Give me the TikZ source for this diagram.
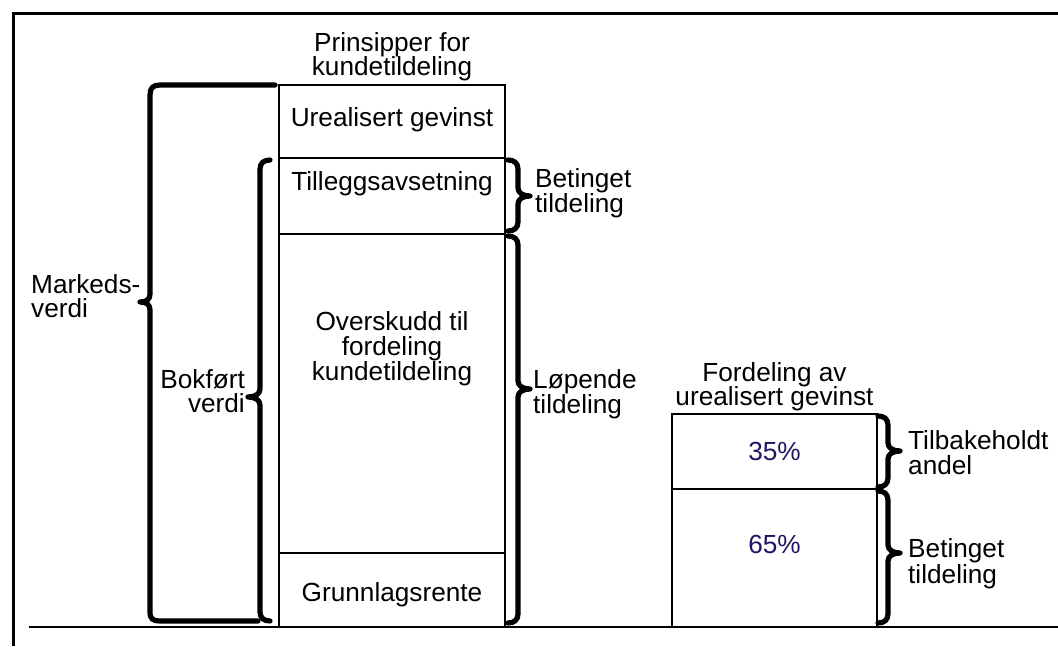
\documentclass[tikz,border=0pt]{standalone}
\usepackage{fontspec}
\setmainfont{Liberation Sans}
\definecolor{pct}{RGB}{32,20,100}
\newcommand\myrbrace[4]{% x0, y1, ym, y2
\draw[brc] ({#1-10},#2) .. controls ({#1-4},#2) and (#1,{#2+3}) .. (#1,{#2+9}) -- (#1,{#3-8}) .. controls (#1,{#3-3}) and ({#1+5},#3) .. ({#1+12},#3) .. controls ({#1+5},#3) and (#1,{#3+3}) .. (#1,{#3+8}) -- (#1,{#4-9}) .. controls (#1,{#4-3}) and ({#1-4},#4) .. ({#1-10},#4);}
\newcommand\mylbrace[4]{% x0, y1, ym, y2
\draw[brc] ({#1+10},#2) .. controls ({#1+4},#2) and (#1,{#2+3}) .. (#1,{#2+9}) -- (#1,{#3-8}) .. controls (#1,{#3-3}) and ({#1-5},#3) .. ({#1-12},#3) .. controls ({#1-5},#3) and (#1,{#3+3}) .. (#1,{#3+8}) -- (#1,{#4-9}) .. controls (#1,{#4-3}) and ({#1+4},#4) .. ({#1+10},#4);}
\begin{document}
\begin{tikzpicture}[x=1pt,y=-1pt,
  txt/.style={font=\fontsize{26.2}{24}\selectfont, inner sep=0pt, anchor=base},
  txtl/.style={txt, anchor=base west},
  txtr/.style={txt, anchor=base east},
  pcttxt/.style={txt, text=pct},
  boxline/.style={line width=2pt},
  brc/.style={line width=5.2pt, line cap=round, line join=round}]
\useasboundingbox (0,0) rectangle (1058,646);
% frame
\draw[line width=3pt] (13.5,646) -- (13.5,13.5) -- (1058,13.5);
\draw[line width=2.2pt] (29,627) -- (1058,627);
% left column
\draw[boxline] (279,627) -- (279,85) -- (505,85) -- (505,627);
\draw[boxline] (279,158) -- (505,158);
\draw[boxline] (279,234) -- (505,234);
\draw[boxline] (279,553) -- (505,553);
% right column
\draw[boxline] (672,627) -- (672,414) -- (877,414) -- (877,627);
\draw[boxline] (672,489) -- (877,489);
% texts
\node[txt] (t1) at (392,51) {Prinsipper for};
\node[txt] (t2) at (392,75) {kundetildeling};
\node[txt] (ug) at (392,126) {Urealisert gevinst};
\node[txt] (ta) at (392,190) {Tilleggsavsetning};
\node[txt] (ov1) at (392,330) {Overskudd til};
\node[txt] (ov2) at (392,355) {fordeling};
\node[txt] (ov3) at (392,380) {kundetildeling};
\node[txt] (gr) at (392,601) {Grunnlagsrente};
\node[txt] (fa1) at (774.5,381) {Fordeling av};
\node[txt] (fa2) at (774.5,405) {urealisert gevinst};
\node[pcttxt] (p35) at (774.5,460) {35\%};
\node[pcttxt] (p65) at (774.5,553) {65\%};
\node[txtl] (mv1) at (31,293) {Markeds-};
\node[txtl] (mv2) at (31,317) {verdi};
\node[txtr] (bv1) at (245,388) {Bokført};
\node[txtr] (bv2) at (245,412) {verdi};
\node[txtl] (bt1) at (535,187) {Betinget};
\node[txtl] (bt2) at (535,212) {tildeling};
\node[txtl] (lt1) at (533,388) {Løpende};
\node[txtl] (lt2) at (533,413) {tildeling};
\node[txtl] (tb1) at (908,449) {Tilbakeholdt};
\node[txtl] (tb2) at (908,474) {andel};
\node[txtl] (bt3) at (908,557) {Betinget};
\node[txtl] (bt4) at (908,583) {tildeling};
% braces
\draw[brc] (275,85) -- (160,85) .. controls (153,85) and (150,88) .. (150,95) -- (150,294) .. controls (150,299) and (147,302) .. (140,302) .. controls (147,302) and (150,305) .. (150,310) -- (150,612) .. controls (150,619) and (153,621) .. (160,621) -- (258,621);
\mylbrace{260}{160}{397}{621}
\myrbrace{518}{160}{196}{231}
\myrbrace{518}{236}{389}{623}
\myrbrace{888}{416}{451}{487}
\myrbrace{888}{491}{553}{623}
\end{tikzpicture}
\end{document}
